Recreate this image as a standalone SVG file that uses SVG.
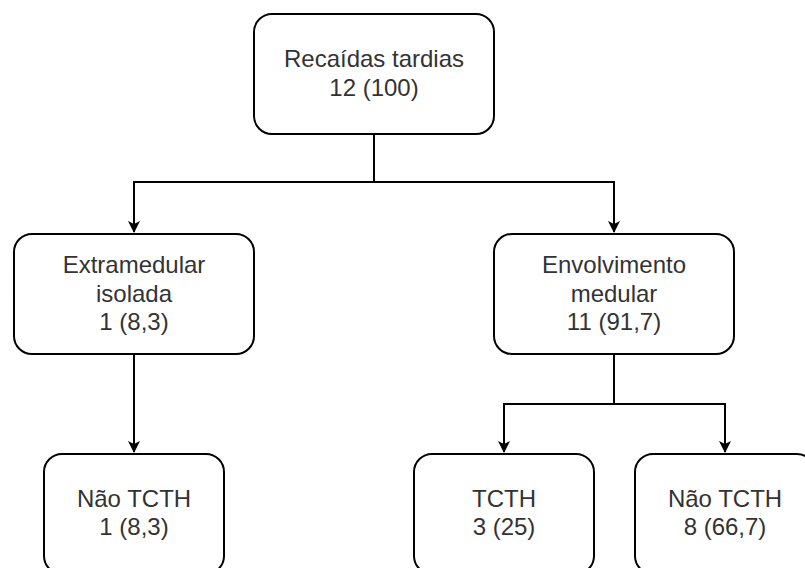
<svg xmlns="http://www.w3.org/2000/svg" width="805" height="568" viewBox="0 0 805 568">
<defs>
<marker id="arr" markerWidth="12" markerHeight="12" viewBox="0 0 12 12" refX="11" refY="6" orient="auto" markerUnits="userSpaceOnUse">
<path d="M0,0 L12,6 L0,12 L3,6 Z" fill="#000"/>
</marker>
<style>
.box{fill:#fff;stroke:#000;stroke-width:2}
.t{font-family:"Liberation Sans",Arial,sans-serif;font-size:24px;fill:#333;text-anchor:middle}
.c{fill:none;stroke:#000;stroke-width:2}
</style>
</defs>
<rect width="805" height="568" fill="#fff"/>
<g id="connectors">
<path class="c" d="M374,134 V182 H134 V232" marker-end="url(#arr)"/>
<path class="c" d="M374,182 H614 V232" marker-end="url(#arr)"/>
<path class="c" d="M134,354 V452" marker-end="url(#arr)"/>
<path class="c" d="M614,354 V404 H504 V452" marker-end="url(#arr)"/>
<path class="c" d="M614,404 H725 V452" marker-end="url(#arr)"/>
</g>
<g id="root">
<rect class="box" x="254" y="14" width="240" height="120" rx="18"/>
<text class="t" x="374" y="67">Recaídas tardias</text>
<text class="t" x="374" y="96">12 (100)</text>
</g>
<g id="extramedular">
<rect class="box" x="14" y="234" width="240" height="120" rx="18"/>
<text class="t" x="134" y="273">Extramedular</text>
<text class="t" x="134" y="302">isolada</text>
<text class="t" x="134" y="330">1 (8,3)</text>
</g>
<g id="envolvimento">
<rect class="box" x="494" y="234" width="240" height="120" rx="18"/>
<text class="t" x="614" y="273">Envolvimento</text>
<text class="t" x="614" y="302">medular</text>
<text class="t" x="614" y="330">11 (91,7)</text>
</g>
<g id="nao-tcth-left">
<rect class="box" x="44" y="454" width="180" height="120" rx="18"/>
<text class="t" x="134" y="507">Não TCTH</text>
<text class="t" x="134" y="535">1 (8,3)</text>
</g>
<g id="tcth">
<rect class="box" x="414" y="454" width="180" height="120" rx="18"/>
<text class="t" x="504" y="507">TCTH</text>
<text class="t" x="504" y="535">3 (25)</text>
</g>
<g id="nao-tcth-right">
<rect class="box" x="635" y="454" width="180" height="120" rx="18"/>
<text class="t" x="725" y="507">Não TCTH</text>
<text class="t" x="725" y="535">8 (66,7)</text>
</g>
</svg>
